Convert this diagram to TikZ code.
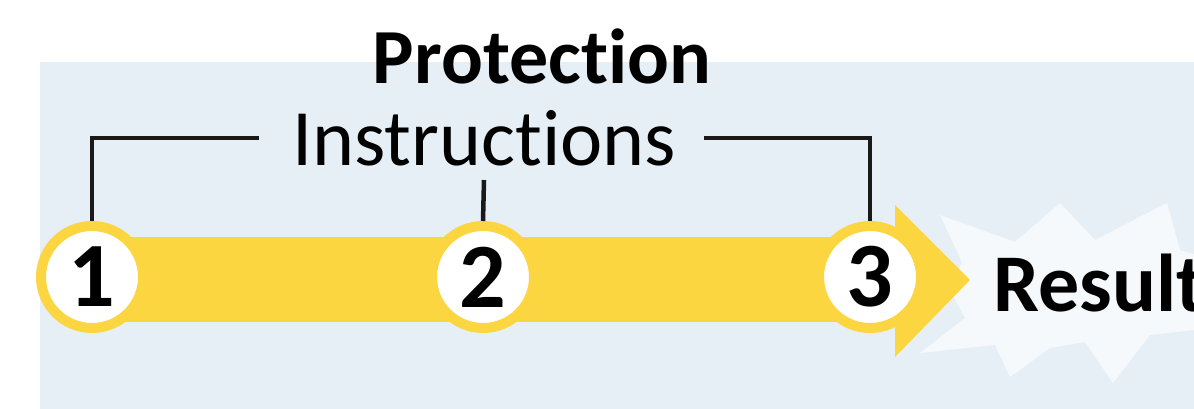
\documentclass[tikz,border=0pt]{standalone}
\usepackage{fontspec}
\setmainfont{Carlito}[Ligatures=NoCommon]
\usepackage{xcolor}
\usepackage{tikz}
\usetikzlibrary{positioning}
\definecolor{panelblue}{HTML}{E7EFF6}
\definecolor{stepyellow}{HTML}{FCD641}
\definecolor{burstwhite}{HTML}{F6F9FC}

\begin{document}
\begin{tikzpicture}[x=1pt, y=-1pt,
  stepnum/.style={circle, draw=stepyellow, line width=10pt, fill=white,
    minimum size=102pt, inner sep=0pt, font=\fontsize{92}{92}\selectfont\bfseries},
  bigtext/.style={inner sep=0pt, font=\fontsize{80}{80}\selectfont},
  bracket/.style={line width=4.5pt, black!90}]
\useasboundingbox (0,0) rectangle (1194,409);
\fill[panelblue] (40,62) rectangle (1194,409);
% starburst behind the result
\fill[burstwhite] (1060,203) -- (1095,240) -- (1167,203) -- (1180,250) -- (1230,265)
  -- (1194,330) -- (1150,335) -- (1113,383) -- (1085,342) -- (1050,348) -- (1010,377)
  -- (995,345) -- (920,353) -- (965,318) -- (950,290) -- (962,262) -- (940,215)
  -- (1015,242) -- cycle;
% band and arrow head
\fill[stepyellow] (92,237) rectangle (900,322);
\fill[stepyellow] (895,205) -- (970,280) -- (895,357) -- cycle;
\node[stepnum] (c1) at (92,277) {1};
\node[stepnum] (c2) at (483,277) {2};
\node[stepnum] (c3) at (870,277) {3};
\node[bigtext, font=\fontsize{78}{78}\selectfont\bfseries] (prot) at (542,56) {Protection};
\node[bigtext] (instr) at (484,138) {Instructions};
\node[bigtext, font=\fontsize{82}{82}\selectfont\bfseries, anchor=west] (result) at (993,283) {Result};
\draw[bracket] ([xshift=-33pt]instr.west) -| (c1.north);
\draw[bracket] ([xshift=28pt]instr.east) -| (c3.north);
\draw[bracket] ([yshift=-14pt]instr.south) -- (c2.north);
\end{tikzpicture}
\end{document}
